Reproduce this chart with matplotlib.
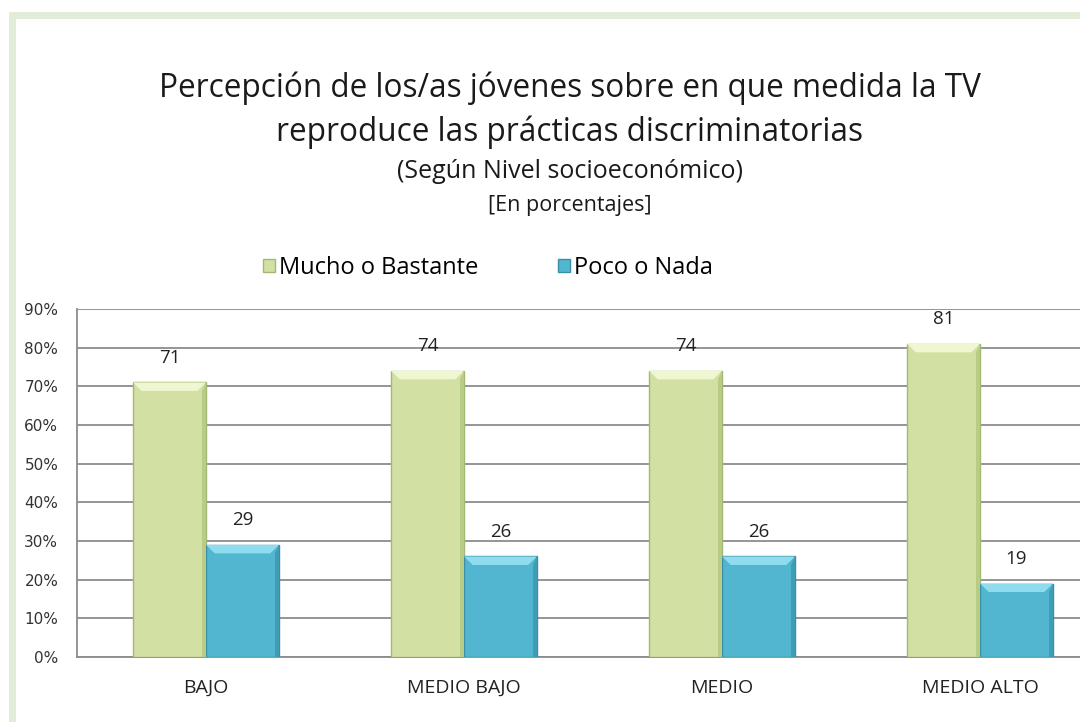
import matplotlib
matplotlib.use("Agg")
import matplotlib.pyplot as plt
from matplotlib.patches import Rectangle, Polygon
import numpy as np

# Data
categories = ["BAJO", "MEDIO BAJO", "MEDIO", "MEDIO ALTO"]
mucho_bastante = [71, 74, 74, 81]
poco_nada = [29, 26, 26, 19]
series_names = ["Mucho o Bastante", "Poco o Nada"]
y_ticks = [0, 10, 20, 30, 40, 50, 60, 70, 80, 90]

FONT = ["Open Sans", "DejaVu Sans"]
plt.rcParams["font.family"] = FONT

W, H = 1080, 722
fig = plt.figure(figsize=(W / 100, H / 100), dpi=100)
fig.patch.set_facecolor("white")

# light green frame around the chart
frame = Rectangle((11.5 / W, -0.2), 1.3, 1 - 15.5 / H + 0.2,
                  transform=fig.transFigure, facecolor="none",
                  edgecolor="#e2edd8", linewidth=5.0, zorder=0)
fig.patches.append(frame)

ax = fig.add_axes([77 / W, 65 / H, 1032 / W, 348 / H])
ax.set_facecolor("white")

x = np.arange(len(categories))
bw = 0.283
colors = {
    "green": dict(face="#d2e1a3", edge="#a3b873", light="#eef6d2", dark="#b9cc86"),
    "blue": dict(face="#52b6d0", edge="#3a8ea6", light="#8fdcef", dark="#3f9db6"),
}


def draw_bars(xpos, vals, c):
    bars = ax.bar(xpos, vals, width=bw, color=c["face"], edgecolor=c["edge"],
                  linewidth=1.0, zorder=3)
    for b in bars:
        x0, w, h = b.get_x(), b.get_width(), b.get_height()
        bev_x = w * 0.12
        bev_y = 2.2
        # top bevel highlight
        ax.add_patch(Polygon([(x0, h), (x0 + w, h), (x0 + w - bev_x, h - bev_y),
                              (x0 + bev_x, h - bev_y)], closed=True,
                             facecolor=c["light"], edgecolor="none", zorder=4))
        # right edge shading
        ax.add_patch(Polygon([(x0 + w, h), (x0 + w, 0), (x0 + w - w * 0.05, 0),
                              (x0 + w - w * 0.05, h - bev_y)], closed=True,
                             facecolor=c["dark"], edgecolor="none", zorder=4))
        ax.text(x0 + w / 2, h + 4.1, f"{h:.0f}", ha="center", va="bottom",
                fontsize=13.5, color="#222222", zorder=5)
    return bars


b1 = draw_bars(x - bw / 2, mucho_bastante, colors["green"])
b2 = draw_bars(x + bw / 2, poco_nada, colors["blue"])

ax.set_xlim(-0.5, len(categories) - 0.5)
ax.set_ylim(0, 90)
ax.set_yticks(y_ticks)
ax.set_yticklabels([f"{t}%" for t in y_ticks], fontsize=11, color="#333333",
                   family=["DejaVu Sans"])
ax.set_xticks(x)
ax.set_xticklabels(categories, fontsize=14, color="#222222")
ax.tick_params(axis="y", length=0, pad=13.5)
ax.tick_params(axis="x", length=0, pad=15.5)
ax.yaxis.grid(True, color="#8c8c8c", linewidth=1.3, zorder=1)
ax.set_axisbelow(True)
for s in ["top", "right"]:
    ax.spines[s].set_visible(False)
for s in ["left", "bottom"]:
    ax.spines[s].set_color("#8c8c8c")
    ax.spines[s].set_linewidth(1.3)

# Titles
cx = 570 / W
fig.text(cx, 1 - 88 / H, "Percepción de los/as jóvenes sobre en que medida la TV",
         ha="center", va="center", fontsize=22.7, color="#1a1a1a")
fig.text(cx, 1 - 132 / H, "reproduce las prácticas discriminatorias",
         ha="center", va="center", fontsize=22.7, color="#1a1a1a")
fig.text(cx, 1 - 172 / H, "(Según Nivel socioeconómico)",
         ha="center", va="center", fontsize=18, color="#1a1a1a")
fig.text(cx, 1 - 205 / H, "[En porcentajes]",
         ha="center", va="center", fontsize=15.5, color="#1a1a1a")

# Legend
leg = ax.legend([b1, b2], series_names, loc="center",
                bbox_to_anchor=(488 / W, 1 - 268 / H), bbox_transform=fig.transFigure,
                ncol=2, frameon=False, fontsize=17, handlelength=0.5,
                handleheight=0.5, handletextpad=0.15, columnspacing=3.4)

fig.savefig("out.png", dpi=100, facecolor=fig.get_facecolor())
